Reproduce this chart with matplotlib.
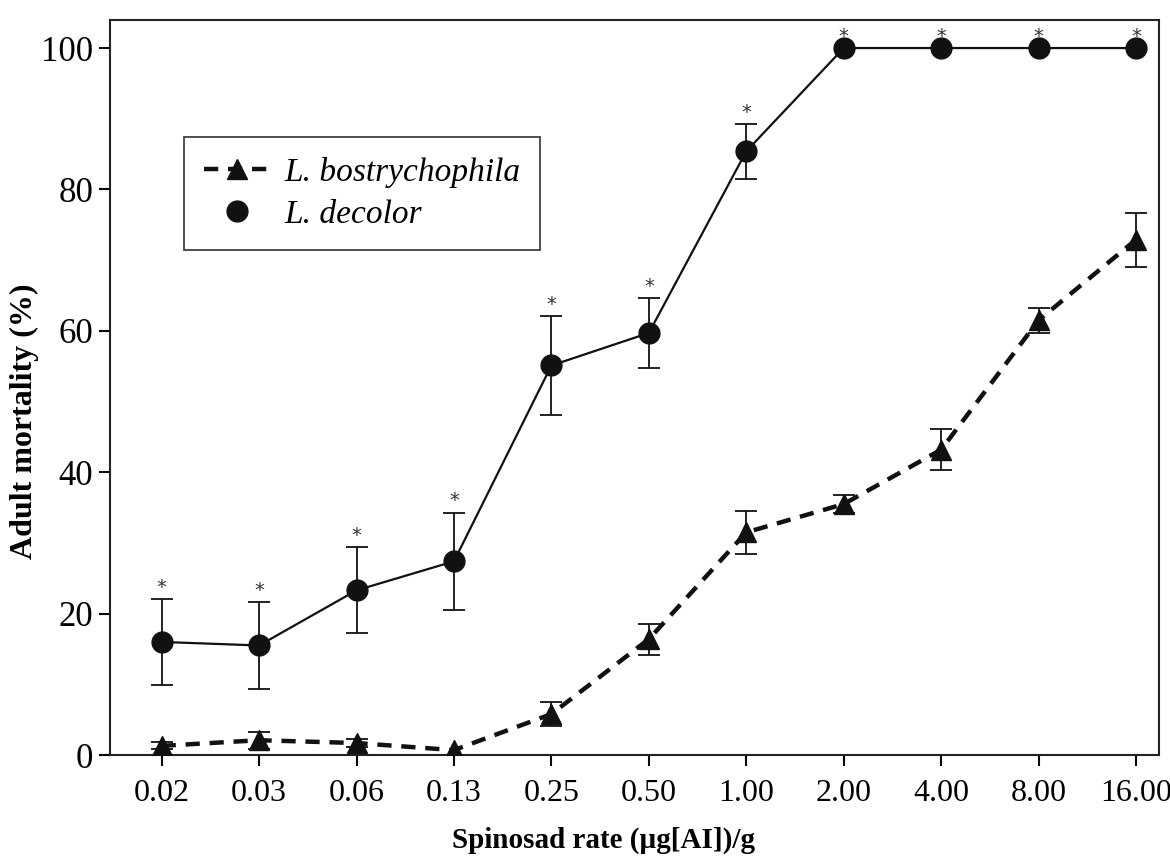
import numpy as np
import matplotlib
matplotlib.use('Agg')
import matplotlib.pyplot as plt
from matplotlib.lines import Line2D

plt.rcParams['font.family'] = ['Liberation Serif', 'DejaVu Serif']

## Dosis (etiquetas del eje x)
rates = ['0.02', '0.03', '0.06', '0.13', '0.25', '0.50', '1.00', '2.00', '4.00', '8.00', '16.00']

## L. bostrychophila: media y error estandar
bos_mean = [1.3, 2.1, 1.7, 0.7, 5.8, 16.4, 31.5, 35.5, 43.2, 61.5, 72.9]
bos_se   = [0.5, 1.2, 0.6, 0.0, 1.7, 2.2, 3.0, 1.3, 2.9, 1.8, 3.8]

## L. decolor: media y error estandar
dec_mean = [16.0, 15.5, 23.3, 27.4, 55.1, 59.7, 85.4, 100, 100, 100, 100]
dec_se   = [6.1, 6.2, 6.1, 6.9, 7.0, 4.9, 3.9, 0, 0, 0, 0]

x = np.arange(len(rates))

fig = plt.figure(figsize=(11.7, 8.59), dpi=100)
ax = fig.add_axes([0.094, 0.121, 0.897, 0.856])

## L. decolor (linea continua, circulos)
ax.errorbar(x, dec_mean, yerr=[s if s > 0 else np.nan for s in dec_se], color='#111111',
            lw=1.6, marker='o', ms=15, capsize=8, elinewidth=1.3, capthick=1.3, zorder=3)

## L. bostrychophila (linea discontinua, triangulos)
ax.errorbar(x, bos_mean, yerr=[s if s > 0 else np.nan for s in bos_se], color='#111111',
            lw=3.2, ls=(0, (3.2, 2.2)), marker='^', ms=15, capsize=8, elinewidth=1.3,
            capthick=1.3, zorder=4)

## Asteriscos de significancia
for i in range(len(x)):
    ax.text(x[i], dec_mean[i] + dec_se[i] + 0.3, '*', ha='center', va='bottom',
            fontsize=14, color='#333333', family='DejaVu Sans')

ax.set_xlim(-0.53, 10.24)
ax.set_ylim(0, 104)
ax.set_xticks(x)
ax.set_xticklabels(rates)
ax.set_yticks([0, 20, 40, 60, 80, 100])
ax.tick_params(axis='x', labelsize=23, length=8, width=1.5, direction='out', pad=9)
ax.tick_params(axis='y', labelsize=25, length=8, width=1.5, direction='out', pad=4)
for sp in ax.spines.values():
    sp.set_linewidth(1.5)
    sp.set_color('#222222')

ax.set_ylabel('Adult mortality (%)', fontsize=23, fontweight='bold')
ax.yaxis.set_label_coords(-0.068, 0.454)
fig.text(0.516, 0.022, 'Spinosad rate (\u00b5g[AI])/g', fontsize=21, fontweight='bold',
         ha='center', va='center')

handles = [Line2D([], [], color='#111111', lw=3.2, ls=(0, (3.2, 2.2)), marker='^', ms=15),
           Line2D([], [], color='#111111', lw=0, marker='o', ms=15)]
leg = ax.legend(handles, ['L. bostrychophila', 'L. decolor'], loc='upper left',
                bbox_to_anchor=(0.0705, 0.841), prop={'size': 24, 'style': 'italic'},
                frameon=True, fancybox=False, edgecolor='#111111', handlelength=2.0,
                borderpad=0.6, labelspacing=0.35, handletextpad=0.4, borderaxespad=0)
leg.get_frame().set_linewidth(1.3)

fig.savefig('out.png', dpi=100)
